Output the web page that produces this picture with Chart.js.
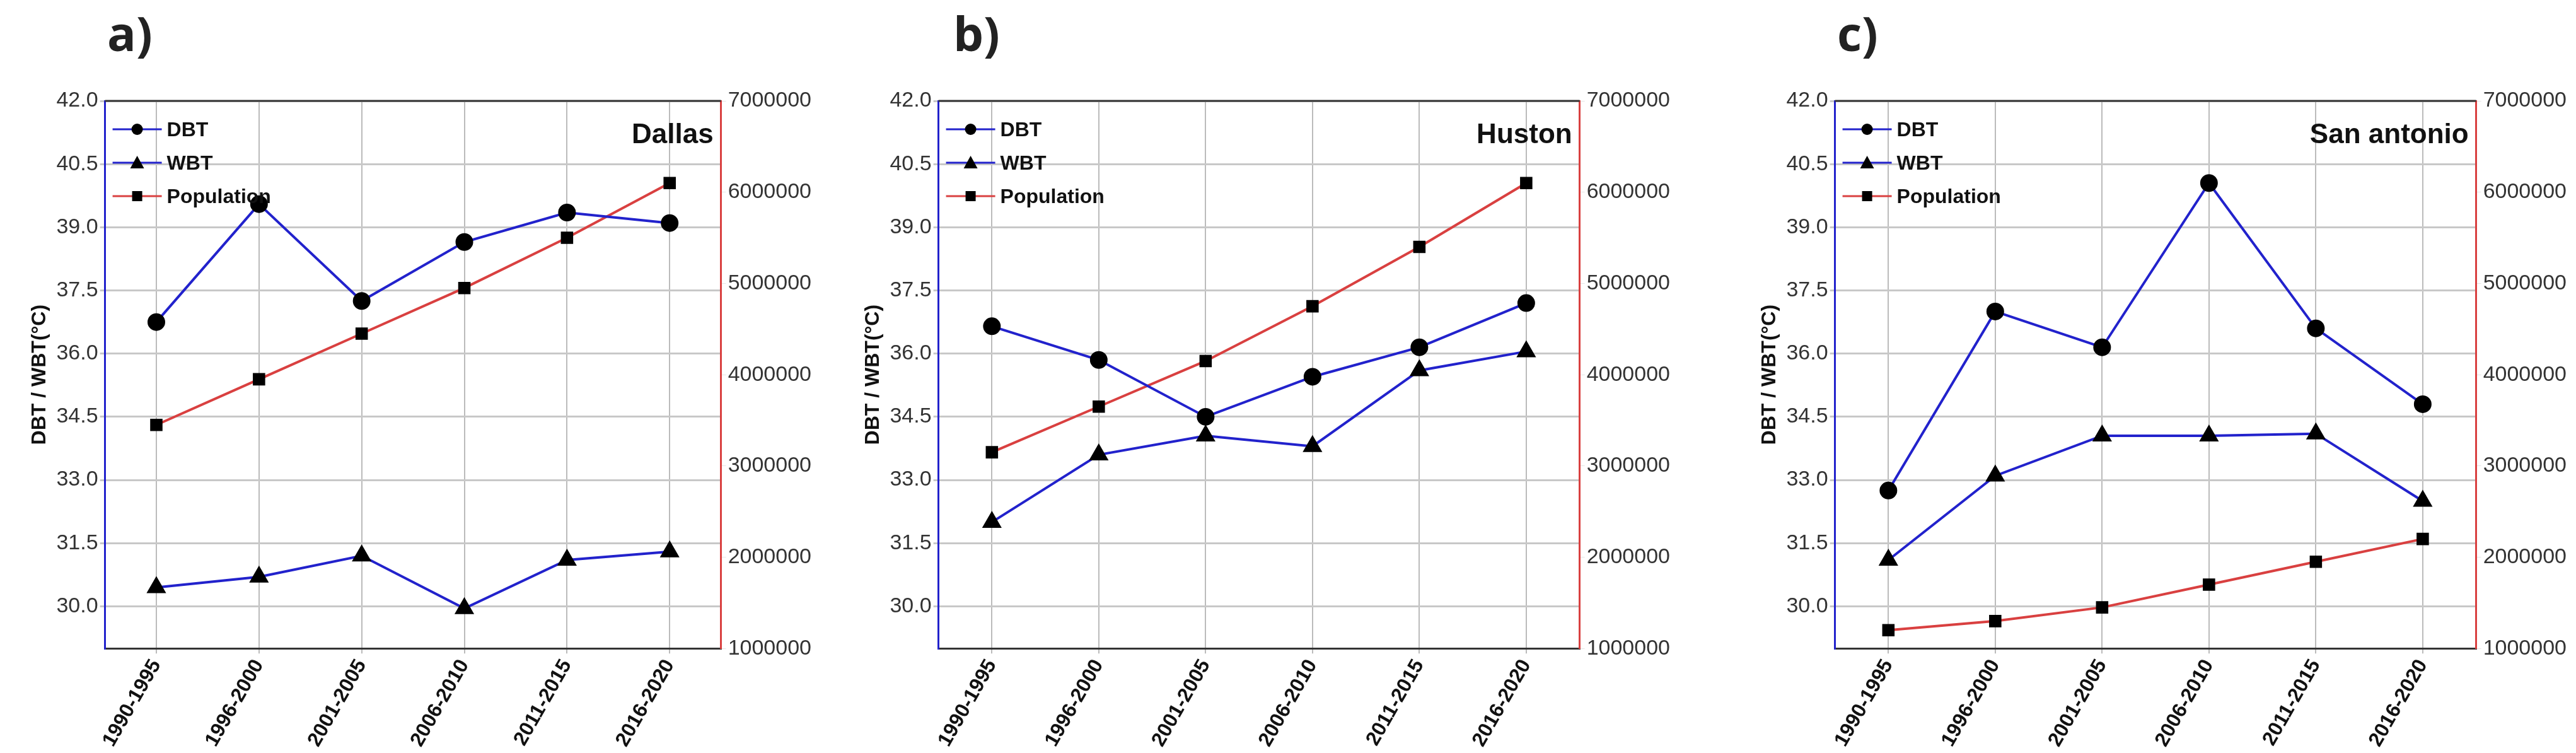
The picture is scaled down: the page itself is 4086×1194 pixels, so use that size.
<!DOCTYPE html>
<html>
<head>
<meta charset="utf-8">
<script src="https://cdn.jsdelivr.net/npm/chart.js@4"></script>
<style>
  body { margin: 0; background: #fff; width: 4086px; height: 1194px; position: relative; overflow: hidden; font-family: Arial, "Liberation Sans", sans-serif; }
  .panel { position: absolute; top: 0; width: 1360px; height: 1194px; }
  .letter { position: absolute; top: 0; font-size: 76px; font-weight: bold; color: #222; font-family: "Open Sans", Arial, sans-serif; }
  canvas { position: absolute; left: 0; top: 0; }
</style>
</head>
<body>
<div class="panel" style="left:0"><div class="letter" style="left:170px">a)</div><canvas id="c0"></canvas></div>
<div class="panel" style="left:1362px"><div class="letter" style="left:150px">b)</div><canvas id="c1"></canvas></div>
<div class="panel" style="left:2724px"><div class="letter" style="left:190px">c)</div><canvas id="c2"></canvas></div>
<script>
const periods = ['1990-1995', '1996-2000', '2001-2005', '2006-2010', '2011-2015', '2016-2020'];
const cities = ['Dallas', 'Huston', 'San antonio'];
const tempTicks = [30.0, 31.5, 33.0, 34.5, 36.0, 37.5, 39.0, 40.5, 42.0];
const popTicks = [1000000, 2000000, 3000000, 4000000, 5000000, 6000000, 7000000];

const dbtDallas = [36.75, 39.55, 37.25, 38.65, 39.35, 39.1];
const wbtDallas = [30.45, 30.7, 31.2, 29.95, 31.1, 31.3];
const popDallas = [3450000, 3950000, 4450000, 4950000, 5500000, 6100000];

const dbtHuston = [36.65, 35.85, 34.5, 35.45, 36.15, 37.2];
const wbtHuston = [32.0, 33.6, 34.05, 33.8, 35.6, 36.05];
const popHuston = [3150000, 3650000, 4150000, 4750000, 5400000, 6100000];

const dbtSanAntonio = [32.75, 37.0, 36.15, 40.05, 36.6, 34.8];
const wbtSanAntonio = [31.1, 33.1, 34.05, 34.05, 34.1, 32.5];
const popSanAntonio = [1200000, 1300000, 1450000, 1700000, 1950000, 2200000];

const allDbt = [dbtDallas, dbtHuston, dbtSanAntonio];
const allWbt = [wbtDallas, wbtHuston, wbtSanAntonio];
const allPop = [popDallas, popHuston, popSanAntonio];

const font = { family: 'Arial, "Liberation Sans", sans-serif', size: 34 };
const pads = [{ left: 40, right: 70 }, { left: 0, right: 70 }, { left: 60, right: 10 }];

// legend, city name and top frame drawn inside the plot area
const insideText = {
  id: 'insideText',
  afterDraw(chart, args, opts) {
    const ctx = chart.ctx, a = chart.chartArea;
    ctx.save();
    ctx.strokeStyle = '#333';
    ctx.lineWidth = 3;
    ctx.beginPath(); ctx.moveTo(a.left, a.top); ctx.lineTo(a.right, a.top); ctx.stroke();
    ctx.font = 'bold 44px Arial, "Liberation Sans", sans-serif';
    ctx.fillStyle = '#111';
    ctx.textAlign = 'right';
    ctx.textBaseline = 'middle';
    ctx.fillText(opts.city, a.right - 12, a.top + 55);
    const items = [['DBT', '#2222cc', 'circle'], ['WBT', '#2222cc', 'triangle'], ['Population', '#d94040', 'rect']];
    ctx.font = 'bold 32px Arial, "Liberation Sans", sans-serif';
    ctx.textAlign = 'left';
    items.forEach((it, i) => {
      const y = a.top + 45 + i * 53;
      const x0 = a.left + 12;
      ctx.strokeStyle = it[1];
      ctx.lineWidth = 3;
      ctx.beginPath(); ctx.moveTo(x0, y); ctx.lineTo(x0 + 78, y); ctx.stroke();
      ctx.fillStyle = '#000';
      const cx = x0 + 39;
      ctx.beginPath();
      if (it[2] === 'circle') ctx.arc(cx, y, 9, 0, Math.PI * 2);
      else if (it[2] === 'triangle') { ctx.moveTo(cx, y - 11); ctx.lineTo(cx + 11, y + 9); ctx.lineTo(cx - 11, y + 9); ctx.closePath(); }
      else ctx.rect(cx - 8, y - 8, 16, 16);
      ctx.fill();
      ctx.fillStyle = '#111';
      ctx.fillText(it[0], x0 + 86, y + 2);
    });
    ctx.restore();
  }
};

cities.forEach((city, i) => {
  const el = document.getElementById('c' + i);
  el.width = 1360; el.height = 1194;
  new Chart(el, {
    type: 'line',
    data: {
      labels: periods,
      datasets: [
        { label: 'DBT', data: allDbt[i], yAxisID: 'y', borderColor: '#2222cc', borderWidth: 4,
          pointStyle: 'circle', pointRadius: 12, pointBackgroundColor: '#000', pointBorderColor: '#000' },
        { label: 'WBT', data: allWbt[i], yAxisID: 'y', borderColor: '#2222cc', borderWidth: 4,
          pointStyle: 'triangle', pointRadius: 14, pointBackgroundColor: '#000', pointBorderColor: '#000' },
        { label: 'Population', data: allPop[i], yAxisID: 'y1', borderColor: '#d94040', borderWidth: 4,
          pointStyle: 'rect', pointRadius: 11, pointBackgroundColor: '#000', pointBorderColor: '#000' }
      ]
    },
    options: {
      responsive: false,
      animation: false,
      layout: { padding: { top: 160, left: pads[i].left, right: pads[i].right, bottom: 0 } },
      plugins: { legend: { display: false }, tooltip: { enabled: false }, insideText: { city } },
      scales: {
        x: {
          offset: true,
          grid: { offset: false, color: '#bbb', lineWidth: 2 },
          border: { color: '#333', width: 3 },
          ticks: { color: '#111', font: { ...font, size: 32, weight: 'bold' }, maxRotation: 60, minRotation: 60 }
        },
        y: {
          position: 'left', min: 29, max: 42,
          afterBuildTicks: s => { s.ticks = tempTicks.map(v => ({ value: v })); },
          grid: { color: '#c8c8c8', lineWidth: 3 },
          border: { color: '#2222cc', width: 3 },
          ticks: { color: '#333', font, callback: v => v.toFixed(1) },
          title: { display: true, text: 'DBT / WBT(°C)', color: '#111', font: { ...font, size: 32, weight: 'bold' } }
        },
        y1: {
          position: 'right', min: 1000000, max: 7000000,
          afterBuildTicks: s => { s.ticks = popTicks.map(v => ({ value: v })); },
          grid: { drawOnChartArea: false },
          border: { color: '#d94040', width: 3 },
          ticks: { color: '#333', font, callback: v => String(v) }
        }
      }
    },
    plugins: [insideText]
  });
});
</script>
</body>
</html>
